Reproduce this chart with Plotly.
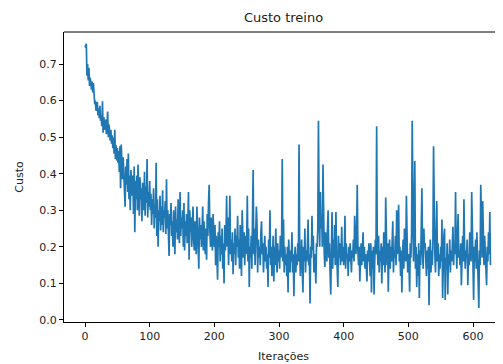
import plotly.graph_objects as go

titulo = "Custo treino"
rotulo_x = "Iterações"
rotulo_y = "Custo"

custo = [
    0.745, 0.752, 0.755, 0.668, 0.700, 0.655, 0.690, 0.640, 0.662, 0.648,
    0.630, 0.652, 0.622, 0.648, 0.615, 0.590, 0.600, 0.572, 0.588, 0.596,
    0.560, 0.578, 0.552, 0.586, 0.545, 0.560, 0.530, 0.598, 0.512, 0.555,
    0.540, 0.520, 0.548, 0.508, 0.528, 0.570, 0.500, 0.535, 0.515, 0.490,
    0.520, 0.482, 0.505, 0.470, 0.498, 0.455, 0.520, 0.440, 0.478, 0.436,
    0.470, 0.430, 0.462, 0.405, 0.475, 0.360, 0.480, 0.425, 0.385, 0.445,
    0.400, 0.360, 0.310, 0.420, 0.370, 0.440, 0.350, 0.455, 0.330, 0.395,
    0.300, 0.410, 0.355, 0.340, 0.395, 0.290, 0.420, 0.240, 0.380, 0.330,
    0.395, 0.300, 0.425, 0.350, 0.285, 0.390, 0.330, 0.360, 0.270, 0.375,
    0.340, 0.300, 0.405, 0.285, 0.365, 0.320, 0.440, 0.280, 0.350, 0.310,
    0.380, 0.300, 0.345, 0.260, 0.330, 0.290, 0.360, 0.250, 0.315, 0.280,
    0.430, 0.230, 0.330, 0.200, 0.300, 0.270, 0.340, 0.245, 0.310, 0.260,
    0.355, 0.240, 0.300, 0.280, 0.325, 0.235, 0.385, 0.250, 0.300, 0.215,
    0.175, 0.290, 0.260, 0.320, 0.230, 0.270, 0.200, 0.300, 0.250, 0.180,
    0.310, 0.240, 0.275, 0.220, 0.330, 0.260, 0.210, 0.350, 0.230, 0.280,
    0.250, 0.300, 0.200, 0.320, 0.190, 0.270, 0.230, 0.290, 0.210, 0.260,
    0.350, 0.165, 0.300, 0.240, 0.280, 0.200, 0.250, 0.310, 0.220, 0.190,
    0.270, 0.230, 0.180, 0.310, 0.250, 0.200, 0.140, 0.280, 0.220, 0.260,
    0.200, 0.240, 0.310, 0.190, 0.270, 0.220, 0.180, 0.250, 0.165, 0.290,
    0.230, 0.320, 0.370, 0.250, 0.200, 0.280, 0.220, 0.190, 0.290, 0.240,
    0.200, 0.260, 0.150, 0.230, 0.180, 0.110, 0.240, 0.200, 0.270, 0.160,
    0.230, 0.180, 0.250, 0.140, 0.210, 0.100, 0.260, 0.190, 0.230, 0.340,
    0.200, 0.280, 0.150, 0.250, 0.340, 0.180, 0.220, 0.160, 0.240, 0.125,
    0.210, 0.180, 0.250, 0.150, 0.230, 0.200, 0.285, 0.170, 0.220, 0.140,
    0.260, 0.190, 0.120, 0.300, 0.210, 0.170, 0.240, 0.150, 0.230, 0.180,
    0.220, 0.340, 0.160, 0.250, 0.090, 0.200, 0.170, 0.230, 0.140, 0.280,
    0.410, 0.180, 0.250, 0.150, 0.210, 0.310, 0.260, 0.130, 0.220, 0.170,
    0.200, 0.150, 0.240, 0.270, 0.180, 0.210, 0.130, 0.190, 0.230, 0.160,
    0.200, 0.140, 0.180, 0.090, 0.220, 0.170, 0.300, 0.150, 0.200, 0.120,
    0.180, 0.230, 0.105, 0.200, 0.150, 0.250, 0.170, 0.130, 0.210, 0.160,
    0.190, 0.140, 0.230, 0.170, 0.200, 0.440, 0.160, 0.275, 0.130, 0.200,
    0.150, 0.180, 0.120, 0.200, 0.075, 0.220, 0.170, 0.130, 0.190, 0.160,
    0.240, 0.130, 0.180, 0.065, 0.170, 0.200, 0.130, 0.180, 0.150, 0.210,
    0.160, 0.480, 0.190, 0.120, 0.170, 0.220, 0.140, 0.075, 0.200, 0.160,
    0.250, 0.130, 0.190, 0.160, 0.210, 0.275, 0.150, 0.180, 0.045, 0.200,
    0.170, 0.285, 0.190, 0.230, 0.130, 0.180, 0.160, 0.100, 0.210, 0.200,
    0.250, 0.545, 0.300, 0.200, 0.350, 0.250, 0.280, 0.200, 0.425, 0.220,
    0.180, 0.145, 0.240, 0.190, 0.160, 0.250, 0.300, 0.170, 0.210, 0.130,
    0.070, 0.180, 0.295, 0.140, 0.220, 0.170, 0.260, 0.150, 0.295, 0.190,
    0.140, 0.090, 0.230, 0.170, 0.210, 0.150, 0.180, 0.255, 0.160, 0.200,
    0.150, 0.190, 0.285, 0.140, 0.210, 0.170, 0.180, 0.120, 0.200, 0.160,
    0.210, 0.150, 0.130, 0.190, 0.170, 0.220, 0.160, 0.285, 0.200, 0.180,
    0.230, 0.370, 0.190, 0.150, 0.200, 0.105, 0.170, 0.210, 0.150, 0.190,
    0.240, 0.160, 0.200, 0.140, 0.180, 0.150, 0.105, 0.190, 0.160, 0.210,
    0.170, 0.120, 0.210, 0.075, 0.190, 0.140, 0.200, 0.070, 0.160, 0.220,
    0.180, 0.530, 0.200, 0.150, 0.230, 0.130, 0.190, 0.160, 0.210, 0.100,
    0.200, 0.150, 0.240, 0.180, 0.130, 0.335, 0.190, 0.150, 0.210, 0.077,
    0.180, 0.220, 0.140, 0.200, 0.160, 0.250, 0.270, 0.130, 0.190, 0.170,
    0.230, 0.150, 0.300, 0.180, 0.210, 0.315, 0.160, 0.200, 0.120, 0.190,
    0.075, 0.180, 0.220, 0.140, 0.250, 0.190, 0.160, 0.340, 0.200, 0.130,
    0.180, 0.150, 0.077, 0.210, 0.170, 0.230, 0.545, 0.200, 0.160, 0.250,
    0.435, 0.140, 0.200, 0.090, 0.180, 0.120, 0.210, 0.060, 0.190, 0.150,
    0.230, 0.360, 0.180, 0.140, 0.250, 0.200, 0.210, 0.160, 0.120, 0.190,
    0.140, 0.200, 0.040, 0.170, 0.220, 0.130, 0.190, 0.150, 0.210, 0.475,
    0.240, 0.180, 0.130, 0.200, 0.325, 0.160, 0.210, 0.120, 0.180, 0.140,
    0.200, 0.160, 0.275, 0.060, 0.190, 0.230, 0.250, 0.055, 0.170, 0.140,
    0.210, 0.070, 0.180, 0.150, 0.220, 0.130, 0.190, 0.160, 0.200, 0.255,
    0.150, 0.210, 0.180, 0.350, 0.200, 0.140, 0.230, 0.290, 0.170, 0.190,
    0.150, 0.210, 0.095, 0.180, 0.230, 0.160, 0.330, 0.200, 0.140, 0.190,
    0.170, 0.220, 0.095, 0.180, 0.150, 0.240, 0.200, 0.160, 0.350, 0.190,
    0.130, 0.055, 0.200, 0.160, 0.220, 0.140, 0.240, 0.180, 0.120, 0.033,
    0.190, 0.150, 0.370, 0.210, 0.170, 0.325, 0.200, 0.150, 0.230, 0.180,
    0.140, 0.095, 0.200, 0.160, 0.240, 0.180, 0.295, 0.150,
]
iteracoes = list(range(len(custo)))

x_ticks = [0, 100, 200, 300, 400, 500, 600]
y_ticks = [0.0, 0.1, 0.2, 0.3, 0.4, 0.5, 0.6, 0.7]

fig = go.Figure()
fig.add_trace(go.Scatter(
    x=iteracoes, y=custo, mode="lines",
    line=dict(color="#1f77b4", width=1.7),
    showlegend=False,
))

# page body has an 8px default margin; figure is sized to fill the rest
W, H = 495, 356
font = "DejaVu Sans"
fig.update_layout(
    width=W, height=H,
    margin=dict(l=56, r=0, t=24, b=42),
    paper_bgcolor="white", plot_bgcolor="white",
    font=dict(family=font, size=11, color="#222222"),
    title=dict(text=titulo, x=0.5, xref="paper", xanchor="center",
               y=1 - 9 / H, yref="container", yanchor="middle",
               font=dict(size=13, family=font, color="#222222")),
    xaxis=dict(
        range=[-32.5, 646.4], tickvals=x_ticks,
        ticktext=[str(v) for v in x_ticks],
        showgrid=False, zeroline=False, showline=True,
        linecolor="black", linewidth=1, ticks="outside", ticklen=4,
        tickwidth=1, tickcolor="black",
        title=dict(text=rotulo_x, standoff=10, font=dict(size=11)),
    ),
    yaxis=dict(
        range=[-0.0055, 0.7875], tickvals=y_ticks,
        ticktext=[f"{v:.1f}" for v in y_ticks],
        showgrid=False, zeroline=False, showline=True,
        linecolor="black", linewidth=1, ticks="outside", ticklen=4,
        tickwidth=1, tickcolor="black",
        title=dict(text=rotulo_y, standoff=13, font=dict(size=11)),
    ),
    shapes=[dict(type="line", xref="paper", yref="paper",
                 x0=0, x1=1, y0=1, y1=1,
                 line=dict(color="black", width=1))],
)

fig.write_html("out.html")
